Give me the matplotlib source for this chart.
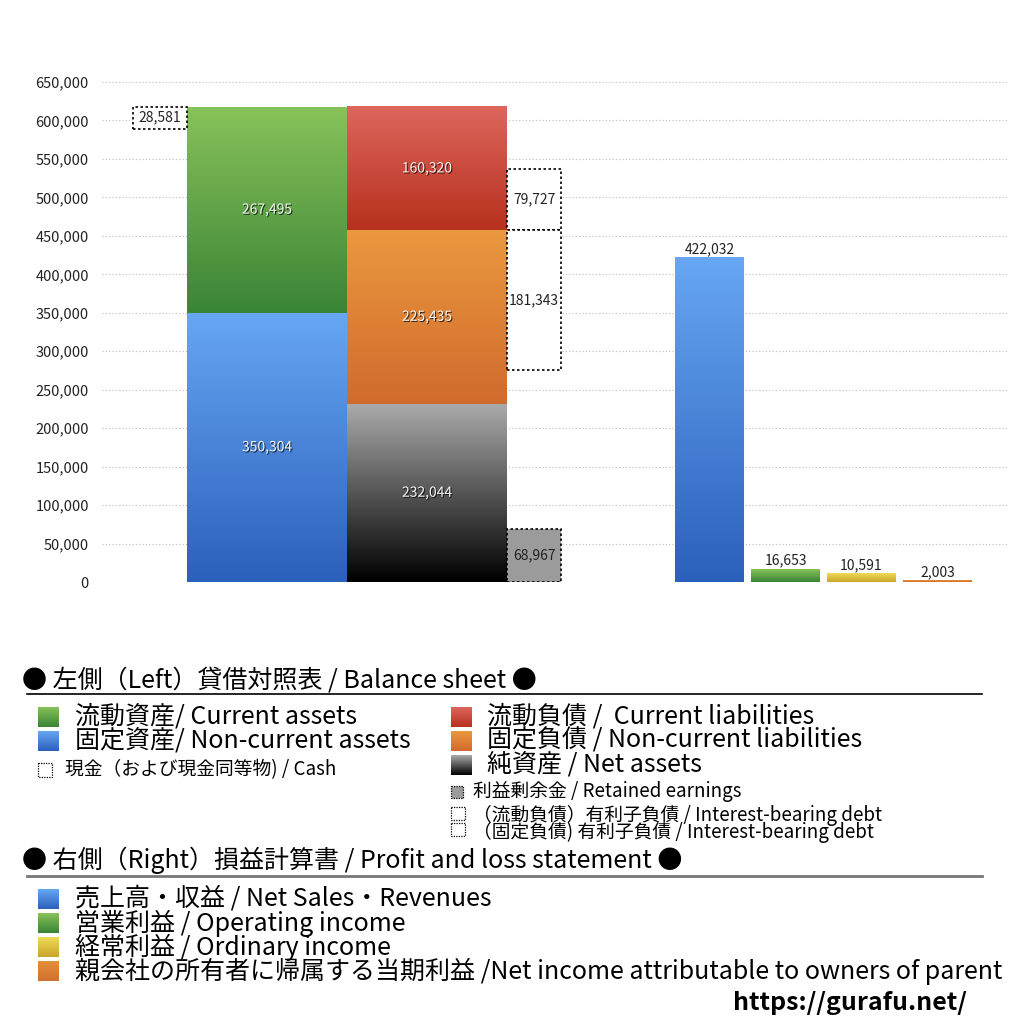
import numpy as np
import matplotlib
matplotlib.use('Agg')
import matplotlib.pyplot as plt
import matplotlib.patheffects as pe
from matplotlib.colors import LinearSegmentedColormap

plt.rcParams['font.family'] = ['Noto Sans CJK JP', 'DejaVu Sans']

# ───────── DATA ─────────
current_assets    = 267495
noncurrent_assets = 350304
cash              = 28581
current_liab      = 160320
noncurrent_liab   = 225435
net_assets        = 232044
retained_earnings = 68967
ibd_current       = 79727
ibd_noncurrent    = 181343
pl_names  = ['売上高・収益', '営業利益', '経常利益', '親会社の所有者に帰属する当期利益']
pl_values = [422032, 16653, 10591, 2003]
y_ticks   = np.arange(0, 650001, 50000)
# ────────────────────────

# gradient colours (top, bottom)
G_GREEN  = ('#88c25a', '#3a8436')
G_BLUE   = ('#67a7f3', '#2b60bb')
G_RED    = ('#dc675d', '#b8301e')
G_ORANGE = ('#ea983f', '#d06b2d')
G_BLACK  = ('#ababab', '#000000')
G_YELLOW = ('#efdc55', '#c9a52c')
G_NET    = ('#e4903c', '#d0702c')
pl_grads = [G_BLUE, G_GREEN, G_YELLOW, G_NET]

fig = plt.figure(figsize=(10.24, 10.24), dpi=100)
ax = fig.add_axes([102/1024, 442/1024, 905/1024, 500/1024])


def grad_bar(ax, patch, grad):
    x0, y0 = patch.get_x(), patch.get_y()
    w, h = patch.get_width(), patch.get_height()
    cm = LinearSegmentedColormap.from_list('g', [grad[1], grad[0]])
    ax.imshow(np.linspace(0, 1, 256).reshape(-1, 1), cmap=cm, origin='lower',
              extent=[x0, x0 + w, y0, y0 + h], aspect='auto',
              interpolation='bilinear', zorder=2)
    patch.set_visible(False)


shadow = [pe.withSimplePatchShadow(offset=(0.8, -0.8), shadow_rgbFace='black', alpha=0.7)]
dash = (0, (1.5, 1.5))
lab_fs = 10

# balance sheet, left column (assets)
x_assets, x_liab, x_side, x_cash, w_bs, w_side = 267, 427, 534, 160, 160, 54
b = ax.bar(x_assets, noncurrent_assets, w_bs)
grad_bar(ax, b[0], G_BLUE)
b = ax.bar(x_assets, current_assets, w_bs, bottom=noncurrent_assets)
grad_bar(ax, b[0], G_GREEN)
total_assets = noncurrent_assets + current_assets
ax.bar(x_cash, cash, w_side, bottom=total_assets - cash, facecolor='white',
       edgecolor='black', linestyle=dash, linewidth=1.2, zorder=3)

# liabilities + net assets
b = ax.bar(x_liab, net_assets, w_bs)
grad_bar(ax, b[0], G_BLACK)
b = ax.bar(x_liab, noncurrent_liab, w_bs, bottom=net_assets)
grad_bar(ax, b[0], G_ORANGE)
b = ax.bar(x_liab, current_liab, w_bs, bottom=net_assets + noncurrent_liab)
grad_bar(ax, b[0], G_RED)

ax.bar(x_side, retained_earnings, w_side, facecolor='#9b9b9b', edgecolor='black',
       linestyle=dash, linewidth=1.2, zorder=3)
ax.bar(x_side, ibd_current, w_side, bottom=net_assets + noncurrent_liab,
       facecolor='white', edgecolor='black', linestyle=dash, linewidth=1.2, zorder=3)
ax.bar(x_side, ibd_noncurrent, w_side, bottom=net_assets + noncurrent_liab - ibd_noncurrent,
       facecolor='white', edgecolor='black', linestyle=dash, linewidth=1.2, zorder=3)

# labels inside
def inside(x, bottom, h):
    ax.text(x, bottom + h / 2, f"{h:,}", ha='center', va='center', fontsize=lab_fs,
            color='#f5f5f5', path_effects=shadow, zorder=5)

def boxed(x, bottom, h):
    ax.text(x, bottom + h / 2, f"{h:,}", ha='center', va='center', fontsize=lab_fs,
            color='#222222', zorder=5)

inside(x_assets, 0, noncurrent_assets)
inside(x_assets, noncurrent_assets, current_assets)
inside(x_liab, 0, net_assets)
inside(x_liab, net_assets, noncurrent_liab)
inside(x_liab, net_assets + noncurrent_liab, current_liab)
boxed(x_cash, total_assets - cash, cash)
boxed(x_side, 0, retained_earnings)
boxed(x_side, net_assets + noncurrent_liab, ibd_current)
boxed(x_side, net_assets + noncurrent_liab - ibd_noncurrent, ibd_noncurrent)

# profit and loss
pl_x = [709.5, 785.5, 861.5, 937.5]
for xx, v, g in zip(pl_x, pl_values, pl_grads):
    b = ax.bar(xx, v, 69)
    grad_bar(ax, b[0], g)
    ax.text(xx, v + 2000, f"{v:,}", ha='center', va='bottom', fontsize=lab_fs,
            color='#222222', zorder=5)

ax.set_xlim(102, 1007)
ax.set_ylim(0, 650000)
ax.set_yticks(y_ticks)
ax.set_yticklabels([f"{t:,}" for t in y_ticks], fontsize=10.5, color='#222222')
ax.tick_params(axis='y', length=0, pad=9.5)
ax.set_xticks([])
for s in ax.spines.values():
    s.set_visible(False)
ax.grid(axis='y', linestyle=(0, (1, 2)), color='#bbbbbb', linewidth=0.8, zorder=0)
ax.set_axisbelow(True)

# ─── legend area in pixel coords ───
lax = fig.add_axes([0, 0, 1, 1])
lax.set_xlim(0, 1024)
lax.set_ylim(1024, 0)
lax.axis('off')


def sq(x0, y0, w, h, grad):
    cm = LinearSegmentedColormap.from_list('g', [grad[0], grad[1]])
    lax.imshow(np.linspace(0, 1, 64).reshape(-1, 1), cmap=cm, origin='upper',
               extent=[x0, x0 + w, y0 + h, y0], aspect='auto', interpolation='bilinear')


def dsq(x0, y0, w, h, fc='white'):
    lax.add_patch(plt.Rectangle((x0, y0), w, h, facecolor=fc, edgecolor='black',
                                linestyle=(0, (1, 1)), linewidth=0.9))


big = 18
small = 13.5

lax.text(22, 680, '● 左側（Left）貸借対照表 / Balance sheet ●', fontsize=big, va='center')
lax.plot([27, 982], [694, 694], color='black', linewidth=1.2)

sq(38, 707, 21, 20, G_GREEN)
lax.text(75, 717, '流動資産/ Current assets', fontsize=big, va='center')
sq(38, 731, 21, 20, G_BLUE)
lax.text(75, 741, '固定資産/ Non-current assets', fontsize=big, va='center')
dsq(38, 763, 14, 14)
lax.text(65, 770, '現金（および現金同等物) / Cash', fontsize=small, va='center')

sq(451, 707, 21, 20, G_RED)
lax.text(487, 717, '流動負債 /  Current liabilities', fontsize=big, va='center')
sq(451, 731, 21, 20, G_ORANGE)
lax.text(487, 741, '固定負債 / Non-current liabilities', fontsize=big, va='center')
sq(451, 755, 21, 20, G_BLACK)
lax.text(487, 765, '純資産 / Net assets', fontsize=big, va='center')
dsq(451, 786, 12, 12, fc='#9b9b9b')
lax.text(473, 792, '利益剰余金 / Retained earnings', fontsize=small, va='center')
dsq(451, 807, 14, 13)
lax.text(473, 815, '（流動負債）有利子負債 / Interest-bearing debt', fontsize=small, va='center')
dsq(451, 823, 14, 13)
lax.text(473, 832, '（固定負債) 有利子負債 / Interest-bearing debt', fontsize=small, va='center')

lax.text(22, 860, '● 右側（Right）損益計算書 / Profit and loss statement ●', fontsize=big, va='center')
lax.plot([27, 982], [876, 876], color='#777777', linewidth=2)

pl_legend = [
    '売上高・収益 / Net Sales・Revenues',
    '営業利益 / Operating income',
    '経常利益 / Ordinary income',
    '親会社の所有者に帰属する当期利益 /Net income attributable to owners of parent',
]
for i, (t, g) in enumerate(zip(pl_legend, pl_grads)):
    yy = 899 + 24 * i
    sq(38, yy - 10, 21, 20, g)
    lax.text(75, yy, t, fontsize=big, va='center')

lax.text(967, 1003, 'https://gurafu.net/', fontsize=18, fontweight='bold',
         ha='right', va='center')

fig.savefig('out.png', dpi=100)
